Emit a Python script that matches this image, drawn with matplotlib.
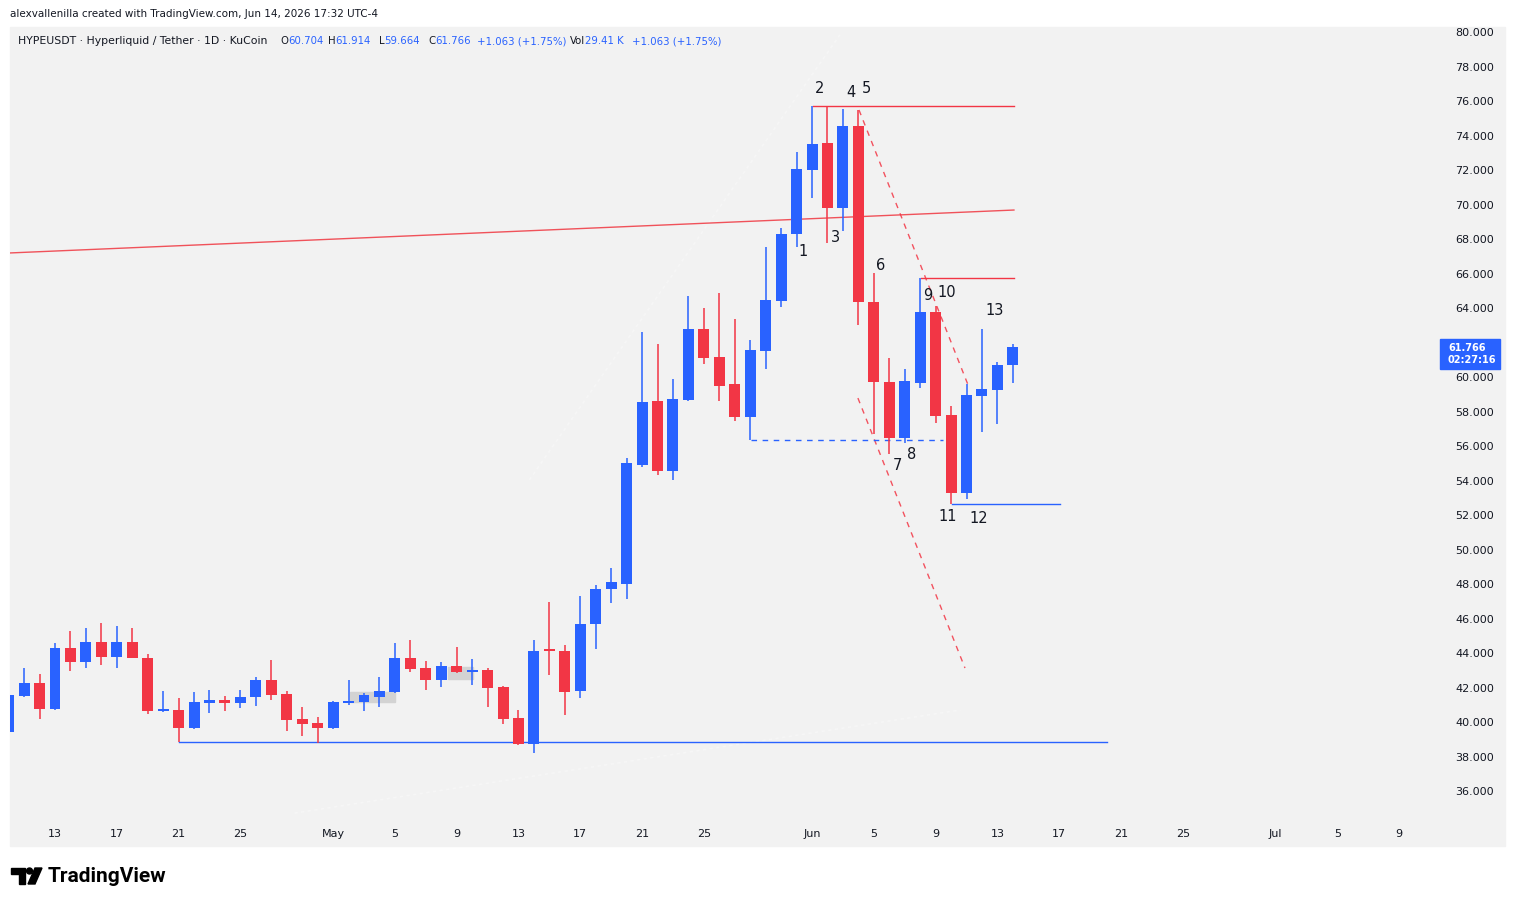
import matplotlib
matplotlib.use('Agg')
import matplotlib.pyplot as plt
import matplotlib.dates as mdates
import matplotlib.transforms as mtransforms
from matplotlib.patches import Rectangle, Polygon, Circle
import numpy as np
import pandas as pd

# HYPEUSDT daily candles, first one is Apr 10 2026 (clipped at the left edge)
first_day = '2026-04-10'
opens  = [39.42, 41.51, 42.28, 40.75, 44.29, 43.48, 44.64, 43.79, 44.64, 43.73,
          40.65, 40.70, 39.67, 41.12, 41.28, 41.12, 41.47, 42.43, 41.62, 40.17,
          39.94, 39.67, 41.12, 41.18, 41.47, 41.76, 43.73, 43.15, 42.43, 43.26,
          42.88, 43.01, 42.05, 40.25, 38.72, 44.20, 44.12, 41.82, 45.70, 47.73,
          48.02, 54.90, 58.61, 54.55, 58.67, 62.78, 61.16, 59.60, 57.68, 61.53,
          64.42, 68.29, 72.02, 73.57, 69.78, 74.55, 64.35, 59.69, 56.48, 59.67,
          63.79, 57.80, 53.29, 58.92, 59.25, 60.704]
highs  = [41.70, 43.13, 42.78, 44.60, 45.27, 45.45, 45.74, 45.57, 45.45, 43.96,
          41.82, 41.41, 41.76, 41.86, 41.50, 41.86, 42.61, 43.59, 41.80, 40.85,
          40.31, 41.20, 42.43, 41.70, 42.63, 44.60, 44.75, 43.54, 43.50, 44.37,
          43.65, 43.15, 42.10, 40.70, 44.75, 46.97, 44.46, 47.30, 47.94, 48.91,
          55.29, 62.59, 61.91, 59.88, 64.70, 64.00, 64.87, 63.36, 62.14, 67.55,
          68.62, 73.06, 75.71, 75.71, 75.52, 75.48, 66.01, 61.10, 60.46, 65.72,
          64.13, 58.32, 59.59, 62.78, 60.89, 61.914]
lows   = [39.30, 41.45, 40.17, 40.70, 42.97, 43.15, 43.32, 43.15, 43.70, 40.48,
          40.60, 38.86, 39.60, 40.54, 40.65, 40.83, 40.94, 41.28, 39.50, 39.21,
          38.77, 39.60, 40.99, 40.65, 40.89, 41.70, 42.92, 41.86, 42.05, 42.87,
          42.14, 40.89, 39.87, 38.68, 38.18, 42.72, 40.41, 41.37, 44.25, 46.88,
          47.13, 54.80, 54.32, 54.03, 58.60, 60.75, 58.61, 57.45, 56.35, 60.45,
          64.08, 67.52, 70.39, 67.79, 68.48, 63.01, 56.70, 55.52, 56.16, 59.35,
          57.35, 52.64, 52.91, 56.83, 57.28, 59.664]
closes = [41.57, 42.28, 40.75, 44.29, 43.48, 44.64, 43.79, 44.64, 43.73, 40.65,
          40.70, 39.67, 41.18, 41.28, 41.12, 41.45, 42.43, 41.57, 40.12, 39.88,
          39.67, 41.16, 41.24, 41.57, 41.80, 43.73, 43.07, 42.43, 43.26, 42.88,
          43.01, 41.99, 40.19, 38.72, 44.12, 44.14, 41.76, 45.68, 47.71, 48.12,
          55.00, 58.53, 54.55, 58.72, 62.78, 61.12, 59.48, 57.68, 61.57, 64.46,
          68.29, 72.06, 73.51, 69.78, 74.55, 64.37, 59.73, 56.48, 59.77, 63.79,
          57.76, 53.29, 58.96, 59.30, 60.70, 61.766]

# 62.000 sits under the last-price tag, so it has no visible label
price_ticks = [36, 38, 40, 42, 44, 46, 48, 50, 52, 54, 56, 58, 60, 64, 66, 68,
               70, 72, 74, 76, 78, 80]
tick_dates = ['2026-04-13', '2026-04-17', '2026-04-21', '2026-04-25', '2026-05-01',
              '2026-05-05', '2026-05-09', '2026-05-13', '2026-05-17', '2026-05-21',
              '2026-05-25', '2026-06-01', '2026-06-05', '2026-06-09', '2026-06-13',
              '2026-06-17', '2026-06-21', '2026-06-25', '2026-07-01', '2026-07-05',
              '2026-07-09']
tick_labels = ['13', '17', '21', '25', 'May', '5', '9', '13', '17', '21', '25',
               'Jun', '5', '9', '13', '17', '21', '25', 'Jul', '5', '9']
last_price = '61.766'
countdown = '02:27:16'

# drawings, x as days after Apr 10
trend_line = [(-1.0, 67.15), (65.07, 69.68)]
channel_upper = [(55.04, 75.48), (62.10, 59.54)]
channel_lower = [(54.97, 58.78), (61.90, 43.13)]
support_line = [(11.03, 38.86), (71.10, 38.86)]
mid_dashed = [(48.05, 56.33), (60.50, 56.33)]
low_line = [(61.06, 52.64), (68.05, 52.64)]
top_line = [(52.06, 75.71), (65.07, 75.71)]
mid_red_line = [(59.05, 65.72), (65.07, 65.72)]
faint_lines = [[(18.5, 34.72), (61.6, 40.70)], [(33.7, 54.03), (53.8, 79.83)]]
boxes = [(22.09, 41.18, 2.91, 0.58), (28.46, 42.49, 1.62, 0.71)]
wave_labels = ['1', '2', '3', '4', '5', '6', '7', '8', '9', '10', '11', '12', '13']
wave_pos = [(51.41, 67.25), (52.51, 76.70), (53.49, 68.08), (54.52, 76.48), (55.49, 76.70),
            (56.44, 66.49), (57.52, 54.86), (58.45, 55.48), (59.49, 64.70), (60.75, 64.89),
            (60.75, 51.94), (62.76, 51.81), (63.80, 63.88)]

UP = '#2962ff'
DOWN = '#f23645'
BG = '#f2f2f2'
TXT = '#131722'
W, H = 1515, 906

def fx(x):
	return x / W

def fy(y):
	return 1 - y / H

fig = plt.figure(figsize=(W / 100, H / 100), dpi=100)
fig.patch.set_facecolor('white')
fig.patches.append(Rectangle((fx(10), fy(846)), fx(1495), (846 - 27) / H,
                             transform=fig.transFigure, color=BG, zorder=-10))

ax = fig.add_axes([fx(10), fy(815), fx(1420), (815 - 27) / H])
ax.set_facecolor(BG)
for s in ax.spines.values():
	s.set_visible(False)

base = mdates.date2num(pd.Timestamp(first_day))
dates = mdates.date2num(pd.date_range(first_day, periods=len(opens), freq='D'))
o = np.array(opens)
c = np.array(closes)
colors = [UP if cc >= oo else DOWN for oo, cc in zip(o, c)]

ax.vlines(dates, lows, highs, colors=colors, lw=1.1, zorder=3)
bottoms = np.minimum(o, c)
heights = np.maximum(np.abs(c - o), 0.08)
ax.bar(dates, heights, bottom=bottoms, width=0.71, color=colors, zorder=4)

def line(pts, **kw):
	xs = [base + p[0] for p in pts]
	ys = [p[1] for p in pts]
	ax.plot(xs, ys, **kw)

line(trend_line, color='#f0525a', lw=1, zorder=2)
line(channel_upper, color=DOWN, lw=1, ls=(0, (4, 4)), alpha=0.85, zorder=2)
line(channel_lower, color=DOWN, lw=1, ls=(0, (4, 4)), alpha=0.85, zorder=2)
line(support_line, color=UP, lw=1, zorder=2)
line(mid_dashed, color=UP, lw=1, ls=(0, (4, 4)), zorder=2)
line(low_line, color=UP, lw=1, zorder=2)
line(top_line, color=DOWN, lw=1, zorder=2)
line(mid_red_line, color=DOWN, lw=1, zorder=2)
for fl in faint_lines:
	line(fl, color='#f6f6f6', lw=1.2, ls=(0, (2, 2)), zorder=1)
for bx, by, bw, bh in boxes:
	ax.add_patch(Rectangle((base + bx, by), bw, bh, color='#d3d3d3', zorder=2))

for lab, (px_, py_) in zip(wave_labels, wave_pos):
	ax.text(base + px_, py_, lab, fontsize=10.5, color=TXT, ha='center', va='center', zorder=5)

ax.set_xlim(base + 0.087, base + 92.0)
ax.set_ylim(34.61, 80.29)

ax.yaxis.tick_right()
ax.set_yticks(price_ticks)
ax.set_yticklabels(['%.3f' % p for p in price_ticks])
ax.tick_params(axis='y', length=0, pad=18, labelsize=8, labelcolor=TXT)
ax.set_xticks(mdates.date2num(pd.to_datetime(tick_dates)))
ax.set_xticklabels(tick_labels)
ax.tick_params(axis='x', length=0, pad=10, labelsize=8, labelcolor=TXT)

# last price tag
bt = mtransforms.blended_transform_factory(fig.transFigure, ax.transData)
fig.patches.append(Rectangle((fx(1440), 60.44), fx(60), 1.78, transform=bt,
                             color=UP, zorder=5))
fig.text(fx(1448), 61.33, last_price + '\n' + countdown, transform=bt, color='white',
         fontsize=7, fontweight='bold', va='center', ha='left', linespacing=1.15, zorder=6)

# header
fig.text(fx(10), fy(14), 'alexvallenilla created with TradingView.com, Jun 14, 2026 17:32 UTC-4',
         fontsize=7.5, color=TXT, va='center')
head = [(18, [('HYPEUSDT · Hyperliquid / Tether · 1D · KuCoin', TXT)]),
        (280, [('O', TXT), ('60.704', UP)]),
        (328, [('H', TXT), ('61.914', UP)]),
        (379, [('L', TXT), ('59.664', UP)]),
        (428, [('C', TXT), ('61.766', UP)]),
        (477, [('+1.063 (+1.75%)', UP)]),
        (570, [('Vol', TXT), ('29.41 K', UP)]),
        (632, [('+1.063 (+1.75%)', UP)])]
renderer = fig.canvas.get_renderer()
for i, (hx, parts) in enumerate(head):
	x0 = fx(hx)
	for ht, hc in parts:
		t = fig.text(x0, fy(41), ht, fontsize=7.8 if i == 0 else 7.3,
		             color=hc, va='center', ha='left')
		bb = t.get_window_extent(renderer=renderer)
		x0 = bb.x1 / W

# TradingView logo
tr = mtransforms.Affine2D().scale(1.0 / W, -1.0 / H).translate(0, 1) + fig.transFigure
fig.patches.append(Polygon([(11, 868), (25, 868), (25, 884), (19, 884), (19, 874), (11, 874)],
                           closed=True, transform=tr, color='black'))
fig.patches.append(Circle((29.5, 871), 3, transform=tr, color='black'))
fig.patches.append(Polygon([(35, 868), (42, 868), (35, 884), (28, 884)],
                           closed=True, transform=tr, color='black'))
fig.text(fx(48), fy(876), 'TradingView', fontsize=15, fontweight='bold',
         family='Roboto', color='black', va='center', ha='left')

plt.savefig('out.png', dpi=100)
